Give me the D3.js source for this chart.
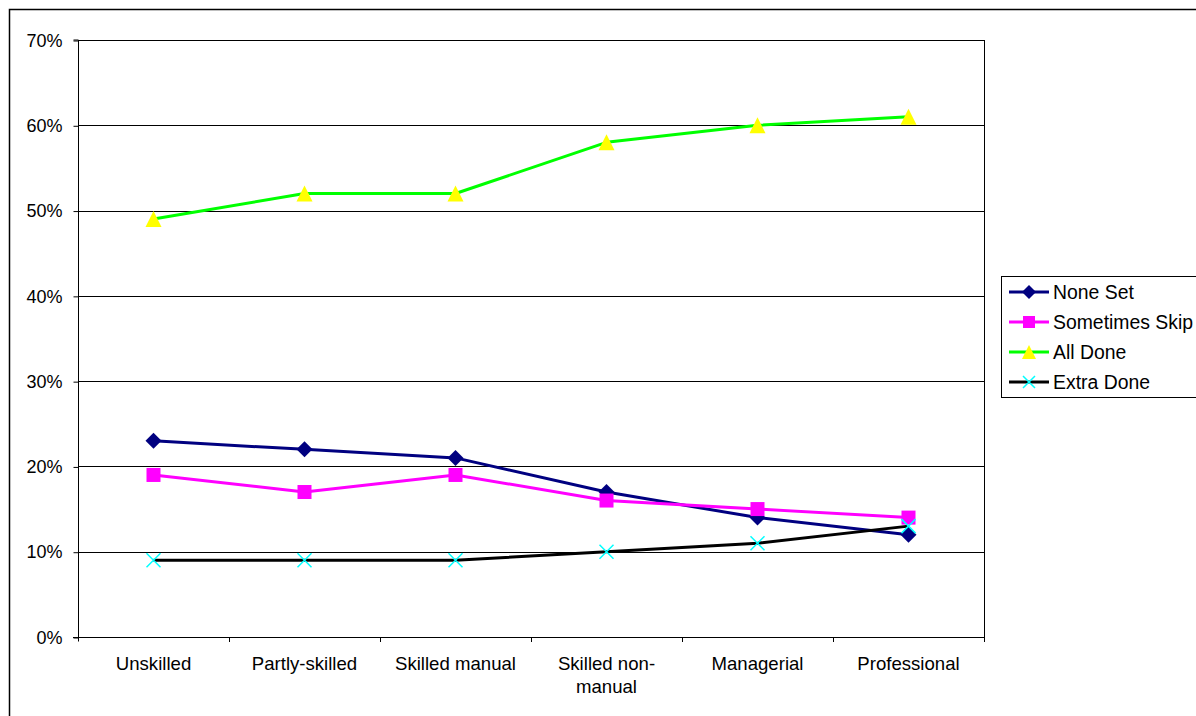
<!DOCTYPE html>
<html>
<head>
<meta charset="utf-8">
<script src="https://cdn.jsdelivr.net/npm/d3@7"></script>
<style>
  html, body { margin: 0; padding: 0; background: #fff; }
  svg { display: block; font-family: "Liberation Sans", Arial, sans-serif; }
</style>
</head>
<body>
<svg id="chart" width="1196" height="716"></svg>
<script>
// Occupational groups along the x axis
const categories = ["Unskilled", "Partly-skilled", "Skilled manual", "Skilled non-manual", "Managerial", "Professional"];
const categoryLabels = [["Unskilled"], ["Partly-skilled"], ["Skilled manual"], ["Skilled non-", "manual"], ["Managerial"], ["Professional"]];

// Share of respondents (%) per group
const noneSet        = [23, 22, 21, 17, 14, 12];
const sometimesSkip  = [19, 17, 19, 16, 15, 14];
const allDone        = [49, 52, 52, 58, 60, 61];
const extraDone      = [9, 9, 9, 10, 11, 13];

const yTicks = [0, 10, 20, 30, 40, 50, 60, 70];

const seriesNames = ["None Set", "Sometimes Skip", "All Done", "Extra Done"];

const series = [
  { name: seriesNames[0], values: noneSet,       line: "#000080", fill: "#000080", marker: "diamond" },
  { name: seriesNames[1], values: sometimesSkip, line: "#ff00ff", fill: "#ff00ff", marker: "square" },
  { name: seriesNames[2], values: allDone,       line: "#00ff00", fill: "#ffff00", marker: "triangle" },
  { name: seriesNames[3], values: extraDone,     line: "#000000", fill: "#00ffff", marker: "cross" }
];

const FONT = 18;
const svg = d3.select("#chart");

// Outer chart frame
svg.append("rect")
  .attr("x", 9.5).attr("y", 9.5)
  .attr("width", 1196).attr("height", 716)
  .attr("fill", "none").attr("stroke", "#000").attr("stroke-width", 1.5);

const plot = { left: 78, top: 40, right: 984, bottom: 637 };

const x = d3.scaleBand().domain(categories).range([plot.left, plot.right]).padding(0);
const y = d3.scaleLinear().domain([0, 70]).range([plot.bottom, plot.top]);
const cx = c => x(c) + x.bandwidth() / 2;

// Horizontal gridlines
svg.append("g").selectAll("line").data(yTicks.filter(t => t > 0)).join("line")
  .attr("x1", plot.left).attr("x2", plot.right)
  .attr("y1", d => Math.round(y(d)) + 0.5).attr("y2", d => Math.round(y(d)) + 0.5)
  .attr("stroke", "#000").attr("stroke-width", 1);

// Right edge of plot area
svg.append("line")
  .attr("x1", plot.right + 0.5).attr("x2", plot.right + 0.5)
  .attr("y1", plot.top).attr("y2", plot.bottom)
  .attr("stroke", "#000").attr("stroke-width", 1);

// Y axis
const yAxis = d3.axisLeft(y).tickValues(yTicks).tickSize(5).tickPadding(11)
  .tickFormat(d => d + "%");
const yg = svg.append("g").attr("transform", `translate(${plot.left + 0.5},0.5)`).call(yAxis);
yg.select(".domain").attr("stroke", "#000").attr("d", `M-5,${plot.top - 0.5}H0V${plot.bottom + 4}`);
yg.selectAll(".tick line").attr("stroke", "#000");
yg.selectAll(".tick text").attr("font-size", FONT).attr("fill", "#000")
  .attr("font-family", "Liberation Sans, Arial, sans-serif");

// X axis baseline and category separators
svg.append("line")
  .attr("x1", plot.left - 5).attr("x2", plot.right)
  .attr("y1", plot.bottom + 0.5).attr("y2", plot.bottom + 0.5)
  .attr("stroke", "#000");
svg.append("g").selectAll("line").data(categories.slice(1).concat(["__end"])).join("line")
  .attr("x1", (d, i) => Math.round(i < categories.length - 1 ? x(d) : plot.right) + 0.5)
  .attr("x2", (d, i) => Math.round(i < categories.length - 1 ? x(d) : plot.right) + 0.5)
  .attr("y1", plot.bottom).attr("y2", plot.bottom + 5)
  .attr("stroke", "#000");

// Category labels
const xl = svg.append("g").selectAll("text").data(categories).join("text")
  .attr("x", d => cx(d))
  .attr("y", plot.bottom + 33)
  .attr("text-anchor", "middle")
  .attr("font-size", 18.6)
  .attr("fill", "#000");
xl.each(function(d, i) {
  const t = d3.select(this);
  categoryLabels[i].forEach((ln, k) => {
    t.append("tspan").attr("x", cx(d)).attr("dy", k === 0 ? 0 : 23).text(ln);
  });
});

// Marker drawing
function drawMarker(g, type, fill, s) {
  if (type === "diamond") {
    g.append("path").attr("d", `M0,${-s}L${s},0L0,${s}L${-s},0Z`).attr("fill", fill);
  } else if (type === "square") {
    g.append("rect").attr("x", -s + 1).attr("y", -s + 1).attr("width", 2 * s - 2).attr("height", 2 * s - 2).attr("fill", fill);
  } else if (type === "triangle") {
    g.append("path").attr("d", `M0,${-s}L${s},${s}L${-s},${s}Z`).attr("fill", fill);
  } else if (type === "cross") {
    const c = s - 1;
    g.append("path").attr("d", `M${-c},${-c}L${c},${c}M${-c},${c}L${c},${-c}`)
      .attr("stroke", fill).attr("stroke-width", 1.5).attr("fill", "none");
  }
}

const line = d3.line().x((d, i) => cx(categories[i])).y(d => y(d));

series.forEach(s => {
  svg.append("path").datum(s.values)
    .attr("d", line)
    .attr("fill", "none")
    .attr("stroke", s.line)
    .attr("stroke-width", 3)
    .attr("stroke-linejoin", "round");
});
series.forEach(s => {
  s.values.forEach((v, i) => {
    const g = svg.append("g").attr("transform", `translate(${cx(categories[i])},${y(v)})`);
    drawMarker(g, s.marker, s.fill, 8);
  });
});

// Legend
const legend = svg.append("g");
legend.append("rect")
  .attr("x", 1001.5).attr("y", 276.5).attr("width", 200).attr("height", 121)
  .attr("fill", "#fff").attr("stroke", "#000").attr("stroke-width", 1);
series.forEach((s, i) => {
  const ly = 292 + i * 30;
  legend.append("line")
    .attr("x1", 1009).attr("x2", 1049).attr("y1", ly).attr("y2", ly)
    .attr("stroke", s.line).attr("stroke-width", 3);
  const g = legend.append("g").attr("transform", `translate(1029,${ly})`);
  drawMarker(g, s.marker, s.fill, 7);
  legend.append("text")
    .attr("x", 1053).attr("y", ly + 7)
    .attr("font-size", 19.4).attr("fill", "#000")
    .text(s.name);
});
</script>
</body>
</html>
